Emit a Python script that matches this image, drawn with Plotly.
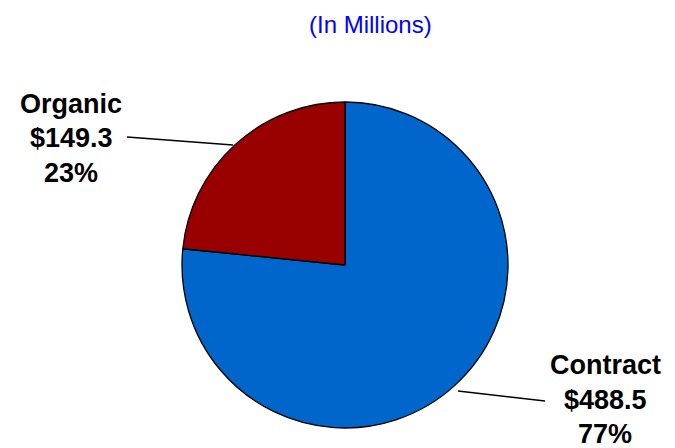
import plotly.graph_objects as go

# Data
categories = ["Contract", "Organic"]
values_musd = [488.5, 149.3]
percent_labels = ["77%", "23%"]
slice_colors = ["#0066CC", "#990000"]
title_text = "(In Millions)"

W, H = 675, 448

def px(x):
    return x / W

def py(y):
    return 1 - y / H

fig = go.Figure()
fig.add_trace(go.Pie(
    labels=categories,
    values=values_musd,
    sort=False,
    direction="clockwise",
    rotation=0,
    textinfo="none",
    hoverinfo="label+value+percent",
    marker=dict(colors=slice_colors, line=dict(color="#000000", width=1.3)),
    domain=dict(x=[px(182), px(508)], y=[py(428), py(102)]),
    showlegend=False,
))

label_font = dict(family="Liberation Sans, Arial, sans-serif", size=27, color="#000000")

# label blocks: (category index, center x, line center ys)
blocks = [
    (1, 71, [104, 138, 173]),
    (0, 605, [365, 400, 434]),
]
annotations = []
for idx, cx, ys in blocks:
    lines = [f"<b>{categories[idx]}</b>", f"<b>${values_musd[idx]:.1f}</b>", f"<b>{percent_labels[idx]}</b>"]
    for t, yy in zip(lines, ys):
        annotations.append(dict(
            x=px(cx), y=py(yy), xref="paper", yref="paper",
            text=t, showarrow=False, xanchor="center", yanchor="middle",
            font=label_font,
        ))

annotations.append(dict(
    x=px(370), y=py(24), xref="paper", yref="paper", text=title_text,
    showarrow=False, xanchor="center", yanchor="middle",
    font=dict(family="Liberation Sans, Arial, sans-serif", size=24, color="#0000FF"),
))

shapes = [
    dict(type="line", xref="paper", yref="paper",
         x0=px(127), y0=py(137), x1=px(233), y1=py(145),
         line=dict(color="#000000", width=1.3)),
    dict(type="line", xref="paper", yref="paper",
         x0=px(458), y0=py(391), x1=px(545), y1=py(401),
         line=dict(color="#000000", width=1.3)),
]

fig.update_layout(
    width=W, height=H,
    margin=dict(l=0, r=0, t=0, b=0),
    paper_bgcolor="#FFFFFF",
    plot_bgcolor="#FFFFFF",
    annotations=annotations,
    shapes=shapes,
)

fig.write_html(
    "out.html",
    config={"displayModeBar": False},
    post_script="document.body.style.margin='0';document.body.style.padding='0';document.body.style.overflow='hidden';",
)
